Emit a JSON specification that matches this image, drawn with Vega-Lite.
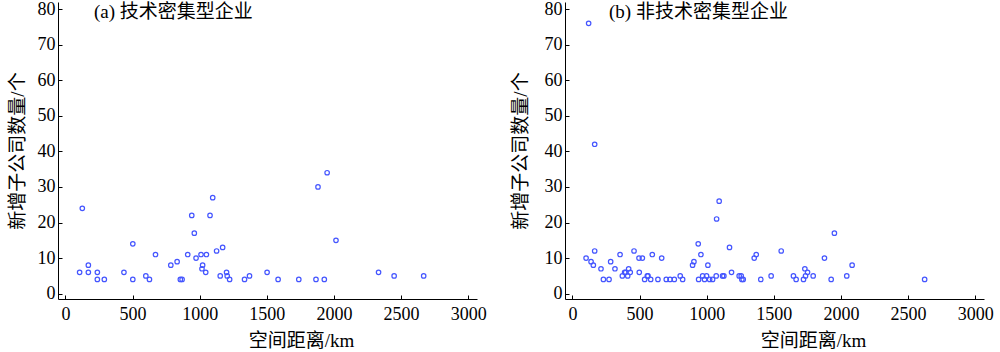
{
  "$schema": "https://vega.github.io/schema/vega-lite/v6.json",
  "padding": {"left": 8, "top": 0, "right": 5, "bottom": 0},
  "config": {
    "font": "Liberation Serif, Noto Sans CJK SC",
    "view": {"stroke": null},
    "axis": {
      "grid": false,
      "domainColor": "#000000",
      "domainWidth": 1,
      "tickColor": "#000000",
      "tickSize": -4,
      "tickWidth": 1,
      "labelColor": "#000000",
      "titleColor": "#000000",
      "labelFontSize": 18,
      "titleFontSize": 19,
      "titleFontWeight": "normal",
      "labelFont": "Liberation Serif",
      "titleFont": "Liberation Serif, Noto Sans CJK SC"
    },
    "concat": {"spacing": 24}
  },
  "datasets": {
    "a": [
      {"distance": 106, "count": 6}, {"distance": 126, "count": 24}, {"distance": 171, "count": 8},
      {"distance": 171, "count": 6}, {"distance": 238, "count": 6}, {"distance": 238, "count": 4},
      {"distance": 290, "count": 4}, {"distance": 436, "count": 6}, {"distance": 502, "count": 14},
      {"distance": 502, "count": 4}, {"distance": 599, "count": 5}, {"distance": 626, "count": 4},
      {"distance": 671, "count": 11}, {"distance": 785, "count": 8}, {"distance": 832, "count": 9},
      {"distance": 856, "count": 4}, {"distance": 869, "count": 4}, {"distance": 911, "count": 11},
      {"distance": 941, "count": 22}, {"distance": 960, "count": 17}, {"distance": 973, "count": 10},
      {"distance": 1010, "count": 11}, {"distance": 1022, "count": 8}, {"distance": 1017, "count": 7},
      {"distance": 1045, "count": 6}, {"distance": 1050, "count": 11}, {"distance": 1077, "count": 22},
      {"distance": 1097, "count": 27}, {"distance": 1126, "count": 12}, {"distance": 1153, "count": 5},
      {"distance": 1171, "count": 13}, {"distance": 1200, "count": 6}, {"distance": 1205, "count": 5},
      {"distance": 1223, "count": 4}, {"distance": 1334, "count": 4}, {"distance": 1371, "count": 5},
      {"distance": 1502, "count": 6}, {"distance": 1584, "count": 4}, {"distance": 1738, "count": 4},
      {"distance": 1866, "count": 4}, {"distance": 1881, "count": 30}, {"distance": 1928, "count": 4},
      {"distance": 1949, "count": 34}, {"distance": 2015, "count": 15}, {"distance": 2332, "count": 6},
      {"distance": 2448, "count": 5}, {"distance": 2668, "count": 5}
    ],
    "b": [
      {"distance": 121, "count": 76}, {"distance": 166, "count": 42},
      {"distance": 102, "count": 10}, {"distance": 139, "count": 9}, {"distance": 156, "count": 8},
      {"distance": 166, "count": 12}, {"distance": 213, "count": 7}, {"distance": 231, "count": 4},
      {"distance": 273, "count": 4}, {"distance": 285, "count": 9}, {"distance": 317, "count": 7},
      {"distance": 355, "count": 11}, {"distance": 372, "count": 5}, {"distance": 389, "count": 6},
      {"distance": 397, "count": 6}, {"distance": 412, "count": 5}, {"distance": 419, "count": 7},
      {"distance": 431, "count": 6}, {"distance": 459, "count": 12}, {"distance": 496, "count": 10},
      {"distance": 498, "count": 6}, {"distance": 521, "count": 10}, {"distance": 538, "count": 4},
      {"distance": 558, "count": 5}, {"distance": 563, "count": 5}, {"distance": 583, "count": 4},
      {"distance": 595, "count": 11}, {"distance": 637, "count": 4}, {"distance": 665, "count": 10},
      {"distance": 699, "count": 4}, {"distance": 727, "count": 4}, {"distance": 759, "count": 4},
      {"distance": 803, "count": 5}, {"distance": 821, "count": 4}, {"distance": 895, "count": 8},
      {"distance": 905, "count": 9}, {"distance": 937, "count": 14}, {"distance": 940, "count": 4},
      {"distance": 957, "count": 11}, {"distance": 970, "count": 5}, {"distance": 984, "count": 4},
      {"distance": 999, "count": 5}, {"distance": 1009, "count": 8}, {"distance": 1022, "count": 4},
      {"distance": 1044, "count": 4}, {"distance": 1071, "count": 5}, {"distance": 1074, "count": 21},
      {"distance": 1093, "count": 26}, {"distance": 1118, "count": 5}, {"distance": 1128, "count": 5},
      {"distance": 1170, "count": 13}, {"distance": 1185, "count": 6}, {"distance": 1242, "count": 5},
      {"distance": 1257, "count": 5}, {"distance": 1262, "count": 4}, {"distance": 1272, "count": 4},
      {"distance": 1354, "count": 10}, {"distance": 1369, "count": 11}, {"distance": 1403, "count": 4},
      {"distance": 1480, "count": 5}, {"distance": 1555, "count": 12}, {"distance": 1646, "count": 5},
      {"distance": 1666, "count": 4}, {"distance": 1721, "count": 4}, {"distance": 1731, "count": 7},
      {"distance": 1736, "count": 5}, {"distance": 1751, "count": 6}, {"distance": 1793, "count": 5},
      {"distance": 1877, "count": 10}, {"distance": 1927, "count": 4}, {"distance": 1951, "count": 17},
      {"distance": 2043, "count": 5}, {"distance": 2083, "count": 8}, {"distance": 2623, "count": 4}
    ]
  },
  "hconcat": [
    {
      "width": 419,
      "height": 297,
      "data": {"name": "a"},
      "title": {"text": "(a) 技术密集型企业", "anchor": "start", "frame": "group", "offset": -22, "dx": 36, "fontSize": 19, "fontWeight": "normal", "font": "Liberation Serif, Noto Sans CJK SC", "color": "#000000"},
      "mark": {"type": "point", "shape": "circle", "filled": false, "color": "#4455ff", "size": 20, "strokeWidth": 1.2, "opacity": 1},
      "encoding": {
        "x": {"field": "distance", "type": "quantitative", "scale": {"domain": [-55, 3065], "nice": false, "zero": false},
              "axis": {"values": [0, 500, 1000, 1500, 2000, 2500, 3000], "format": "d", "title": "空间距离/km", "titleX": 243, "labelPadding": 10, "titlePadding": 8}},
        "y": {"field": "count", "type": "quantitative", "scale": {"domain": [-1.5, 82], "nice": false, "zero": false},
              "axis": {"values": [0, 10, 20, 30, 40, 50, 60, 70, 80], "format": "d", "title": "新增子公司数量/个", "labelPadding": 7, "titlePadding": 10}}
      }
    },
    {
      "width": 419,
      "height": 297,
      "data": {"name": "b"},
      "title": {"text": "(b) 非技术密集型企业", "anchor": "start", "frame": "group", "offset": -22, "dx": 44, "fontSize": 19, "fontWeight": "normal", "font": "Liberation Serif, Noto Sans CJK SC", "color": "#000000"},
      "mark": {"type": "point", "shape": "circle", "filled": false, "color": "#4455ff", "size": 20, "strokeWidth": 1.2, "opacity": 1},
      "encoding": {
        "x": {"field": "distance", "type": "quantitative", "scale": {"domain": [-55, 3065], "nice": false, "zero": false},
              "axis": {"values": [0, 500, 1000, 1500, 2000, 2500, 3000], "format": "d", "title": "空间距离/km", "titleX": 248, "labelPadding": 10, "titlePadding": 8}},
        "y": {"field": "count", "type": "quantitative", "scale": {"domain": [-1.5, 82], "nice": false, "zero": false},
              "axis": {"values": [0, 10, 20, 30, 40, 50, 60, 70, 80], "format": "d", "title": "新增子公司数量/个", "labelPadding": 7, "titlePadding": 14}}
      }
    }
  ]
}
